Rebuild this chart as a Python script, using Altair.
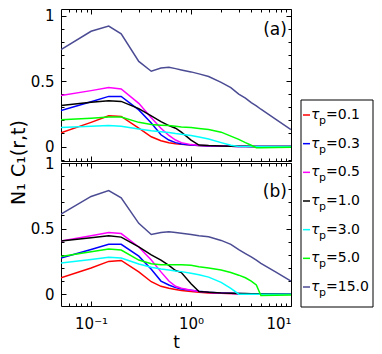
import altair as alt
import pandas as pd

# ---------------- data ----------------
t = [0.05, 0.1, 0.15, 0.2, 0.3, 0.4, 0.5, 0.6, 0.7, 0.8, 1.0, 1.2, 1.5, 2.0,
     2.5, 3.0, 3.5, 4.0, 4.5, 5.0, 7.0, 10.0]

tau_values = ["0.1", "0.3", "0.5", "1.0", "3.0", "5.0", "15.0"]
labels = ["τp=" + v for v in tau_values]
colors = ["#ff0000", "#0000ff", "#ff00ff", "#000000", "#00ffff", "#00ff00", "#4b4b94"]

# panel (a)
a_01 = [0.105, 0.185, 0.235, 0.23, 0.14, 0.075, 0.045, 0.03, 0.022, 0.018, 0.012, 0.008, 0.005, 0.003, 0.002, 0.001, 0.001, 0.0, 0.0, 0.0, 0.0, 0.0]
a_03 = [0.276, 0.342, 0.383, 0.383, 0.28, 0.18, 0.09, 0.05, 0.03, 0.02, 0.012, 0.008, 0.005, 0.003, 0.002, 0.001, 0.001, 0.0, 0.0, 0.0, 0.0, 0.0]
a_05 = [0.389, 0.427, 0.45, 0.44, 0.33, 0.22, 0.14, 0.085, 0.05, 0.03, 0.015, 0.01, 0.007, 0.004, 0.002, 0.001, 0.001, 0.0, 0.0, 0.0, 0.0, 0.0]
a_10 = [0.313, 0.338, 0.35, 0.345, 0.29, 0.235, 0.19, 0.16, 0.14, 0.11, 0.05, 0.012, 0.008, 0.005, 0.003, 0.002, 0.002, 0.001, 0.0, 0.0, 0.0, 0.0]
a_30 = [0.145, 0.155, 0.16, 0.155, 0.135, 0.12, 0.113, 0.107, 0.1, 0.095, 0.085, 0.073, 0.058, 0.03, 0.01, 0.0, 0.0, 0.0, 0.0, 0.0, 0.0, 0.0]
a_50 = [0.205, 0.217, 0.225, 0.225, 0.185, 0.168, 0.163, 0.16, 0.155, 0.15, 0.145, 0.138, 0.13, 0.11, 0.08, 0.055, 0.03, 0.01, -0.008, -0.008, -0.007, -0.005]
a_150 = [0.74, 0.88, 0.92, 0.86, 0.65, 0.575, 0.6, 0.605, 0.595, 0.585, 0.57, 0.555, 0.535, 0.49, 0.45, 0.4, 0.37, 0.335, 0.31, 0.285, 0.21, 0.13]

# panel (b)
b_01 = [0.125, 0.2, 0.25, 0.257, 0.17, 0.095, 0.06, 0.045, 0.035, 0.028, 0.02, 0.015, 0.01, 0.007, 0.005, 0.003, 0.002, 0.002, 0.001, 0.001, 0.0, 0.0]
b_03 = [0.275, 0.34, 0.38, 0.38, 0.29, 0.19, 0.1, 0.07, 0.05, 0.04, 0.03, 0.022, 0.015, 0.01, 0.007, 0.005, 0.004, 0.003, 0.002, 0.002, 0.001, 0.0]
b_05 = [0.405, 0.445, 0.47, 0.462, 0.36, 0.26, 0.17, 0.1, 0.06, 0.045, 0.03, 0.02, 0.013, 0.008, 0.006, 0.004, 0.003, 0.002, 0.002, 0.001, 0.0, 0.0]
b_10 = [0.405, 0.43, 0.445, 0.435, 0.36, 0.3, 0.26, 0.22, 0.18, 0.165, 0.08, 0.02, 0.015, 0.01, 0.008, 0.006, 0.005, 0.004, 0.004, 0.003, 0.002, 0.0]
b_30 = [0.237, 0.265, 0.282, 0.275, 0.23, 0.205, 0.192, 0.185, 0.177, 0.172, 0.16, 0.148, 0.13, 0.09, 0.045, 0.0, 0.0, 0.0, 0.0, 0.0, 0.0, 0.0]
b_50 = [0.287, 0.323, 0.345, 0.337, 0.26, 0.232, 0.225, 0.225, 0.225, 0.224, 0.22, 0.21, 0.2, 0.185, 0.165, 0.145, 0.125, 0.1, 0.07, -0.01, -0.008, -0.006]
b_150 = [0.61, 0.745, 0.79, 0.735, 0.54, 0.455, 0.47, 0.475, 0.47, 0.465, 0.455, 0.445, 0.437, 0.41, 0.38, 0.34, 0.31, 0.285, 0.26, 0.235, 0.17, 0.1]

x_major = [0.1, 1, 10]
x_minor = [0.06, 0.07, 0.08, 0.09, 0.2, 0.3, 0.4, 0.5, 0.6, 0.7, 0.8, 0.9,
           2, 3, 4, 5, 6, 7, 8, 9]
y_major = [0, 0.5, 1]
y_minor = [-0.1, 0.1, 0.2, 0.3, 0.4, 0.6, 0.7, 0.8, 0.9]

panel_tags = ["(a)", "(b)"]
tag_t = [9.1, 9.1]
tag_v = [0.89, 0.78]

# ---------------- build ----------------
FONT = "DejaVu Sans"
W = 230
H_TOP = 152
H_BOT = 143
XS = alt.Scale(type="log", domain=[0.05, 10], nice=False)
CS = alt.Scale(domain=labels, range=colors)


def long_df(series):
    rows = []
    for name, vals in zip(labels, series):
        for ti, vi in zip(t, vals):
            rows.append({"t": ti, "v": vi, "series": name})
    return pd.DataFrame(rows)


def tick_axis(orient, values, size):
    return alt.Axis(orient=orient, values=values, tickSize=size, offset=-size,
                    labels=False, domain=False, grid=False, title=None,
                    ticks=True, tickColor="black", tickWidth=1)


def legend_layers():
    leg_df = pd.DataFrame({"series": labels, "tau": ["τ"] * len(labels),
                           "sub": ["p"] * len(labels),
                           "val": ["=" + v for v in tau_values]})
    LY = alt.Y("series:N", axis=None,
               scale=alt.Scale(type="point", domain=labels, range=[-48, 124], padding=0))
    box = alt.Chart(pd.DataFrame({"k": [0]})).mark_rect(
        fill="white", stroke="black", strokeWidth=1, clip=False).encode(
        x=alt.value(240), x2=alt.value(312), y=alt.value(-63), y2=alt.value(144))
    sym = alt.Chart(leg_df).mark_rule(strokeWidth=1.5, clip=False).encode(
        x=alt.value(242), x2=alt.value(249), y=LY,
        color=alt.Color("series:N", scale=CS, legend=None))
    tau = alt.Chart(leg_df).mark_text(align="left", baseline="middle", font=FONT,
                                      fontSize=14, fontStyle="italic", color="black",
                                      clip=False).encode(
        x=alt.value(250), y=LY, text="tau:N")
    sub = alt.Chart(leg_df).mark_text(align="left", baseline="middle", font=FONT,
                                      fontSize=11, dy=6, color="black",
                                      clip=False).encode(
        x=alt.value(258), y=LY, text="sub:N")
    val = alt.Chart(leg_df).mark_text(align="left", baseline="middle", font=FONT,
                                      fontSize=14, color="black", clip=False).encode(
        x=alt.value(265), y=LY, text="val:N")
    return [box, sym, tau, sub, val]


def panel(series, ydom, h, idx, xlabels, ytitle, with_legend):
    df = long_df(series)
    YS = alt.Scale(domain=ydom, nice=False, zero=False)
    xkw = dict(orient="bottom", values=x_major, ticks=False, tickSize=0,
               domain=False, grid=False, labels=xlabels)
    if xlabels:
        xkw.update(labelExpr="datum.value < 0.5 ? '10⁻¹' : (datum.value < 5 ? '10⁰' : '10¹')",
                   labelFont=FONT, labelFontSize=15, labelPadding=10,
                   labelColor="black", title="t", titleFont=FONT,
                   titleFontSize=17, titleFontWeight="normal",
                   titleColor="black", titlePadding=3)
    else:
        xkw.update(title=None)
    ykw = dict(orient="left", values=y_major, ticks=False, tickSize=0,
               domain=False, grid=False, format="~g", labelFont=FONT,
               labelFontSize=15, labelPadding=7, labelColor="black")
    if ytitle:
        ykw.update(title="N₁ C₁(r,t)", titleFont=FONT, titleFontSize=19,
                   titleFontWeight="normal", titleColor="black",
                   titleX=-43, titleY=h + 1, titleAngle=270,
                   titleAlign="center", titleBaseline="middle")
    else:
        ykw.update(title=None)

    base = alt.Chart(df)
    lines = base.mark_line(strokeWidth=1.5, clip=True).encode(
        x=alt.X("t:Q", scale=XS, axis=alt.Axis(**xkw)),
        y=alt.Y("v:Q", scale=YS, axis=alt.Axis(**ykw)),
        color=alt.Color("series:N", scale=CS, legend=None),
    )

    def ghost(xa, ya):
        return base.mark_point(opacity=0, size=1).encode(
            x=alt.X("t:Q", scale=XS, axis=xa),
            y=alt.Y("v:Q", scale=YS, axis=ya))

    layers = [
        lines,
        ghost(tick_axis("bottom", x_major, 5), tick_axis("left", y_major, 5)),
        ghost(tick_axis("bottom", x_minor, 3), tick_axis("left", y_minor, 3)),
        ghost(tick_axis("top", x_major, 5), tick_axis("right", y_major, 5)),
        ghost(tick_axis("top", x_minor, 3), tick_axis("right", y_minor, 3)),
    ]
    tagdf = pd.DataFrame({"t": [tag_t[idx]], "v": [tag_v[idx]], "s": [panel_tags[idx]]})
    text = alt.Chart(tagdf).mark_text(align="right", baseline="middle", font=FONT,
                                      fontSize=17, color="black").encode(
        x=alt.X("t:Q", scale=XS, axis=None),
        y=alt.Y("v:Q", scale=YS, axis=None),
        text="s:N")
    layers.append(text)
    if with_legend:
        layers += legend_layers()
    return alt.layer(*layers).resolve_axis(
        x="independent", y="independent").resolve_scale(
        y="independent").properties(width=W, height=h)


top = panel([a_01, a_03, a_05, a_10, a_30, a_50, a_150], [-0.11, 1.05], H_TOP, 0, False, True, False)
bottom = panel([b_01, b_03, b_05, b_10, b_30, b_50, b_150], [-0.09, 1.0], H_BOT, 1, True, False, True)

chart = alt.vconcat(top, bottom, spacing=2, bounds="flush").properties(
    padding=0).configure_view(stroke="black", strokeWidth=1)

chart.save("out.html", embed_options={"renderer": "svg", "actions": False})
